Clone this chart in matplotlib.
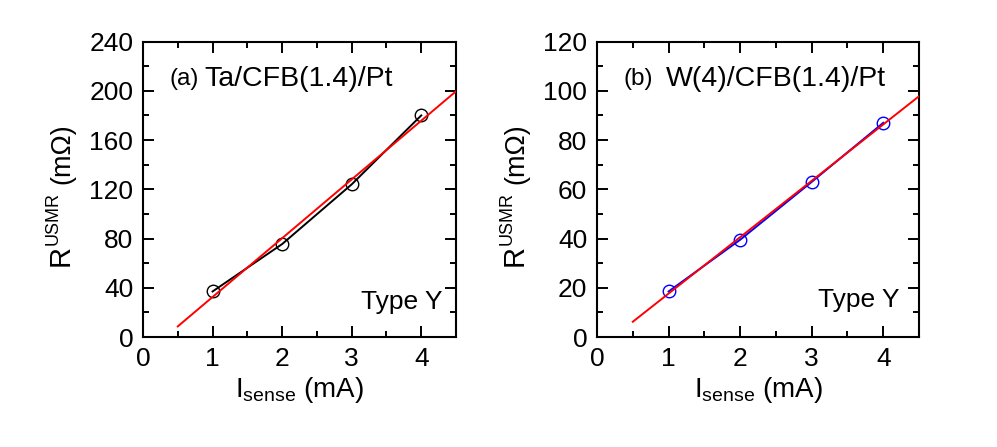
#!/usr/bin/env python3
"""Two-panel USMR vs sensing current plot with linear fits."""

import numpy as np
import matplotlib

matplotlib.use("Agg")
import matplotlib.pyplot as plt
from matplotlib.transforms import IdentityTransform

i_sense = [1, 2, 3, 4]
r_ta = [37, 75.5, 124, 180]
r_w = [18.5, 39.5, 63, 87]
fit_range = [0.5, 4.5]

plt.rcParams["font.family"] = ["Liberation Sans", "DejaVu Sans"]
plt.rcParams["mathtext.fontset"] = "custom"
plt.rcParams["mathtext.rm"] = "Liberation Sans"
plt.rcParams["mathtext.it"] = "Liberation Sans:italic"
plt.rcParams["mathtext.bf"] = "Liberation Sans:bold"

FIG_H = 447


def style_axes(ax, ymax, ystep):
    ax.set_xlim(0, 4.5)
    ax.set_ylim(0, ymax)
    ax.set_xticks([0, 1, 2, 3, 4])
    ax.set_xticks(np.arange(0.5, 4.5, 1.0), minor=True)
    ax.set_yticks(np.arange(0, ymax + 1, ystep))
    ax.set_yticks(np.arange(ystep / 2, ymax, ystep), minor=True)
    ax.tick_params(which="both", direction="in", top=True, right=True,
                   width=1.4, labelsize=19)
    ax.tick_params(which="major", length=8, pad=7)
    ax.tick_params(which="minor", length=4.5)
    for sp in ax.spines.values():
        sp.set_linewidth(1.5)
    ax.set_xlabel(r"$\mathrm{I_{sense}}$ (mA)", fontsize=20, labelpad=3)


def draw_panel(ax, y, color):
    ax.plot(i_sense, y, "-", color=color, lw=1.4, marker="o", mfc="none",
            mec=color, ms=9, mew=1.0, zorder=2)
    slope, icpt = np.polyfit(i_sense, y, 1)
    xf = np.array(fit_range)
    ax.plot(xf, slope * xf + icpt, "-", color="red", lw=1.4, zorder=3)


def ylabel_pieces(fig, x_px, y_px):
    # R^USMR (mOhm) written bottom-to-top, pieces in different sizes
    renderer = fig.canvas.get_renderer()
    parts = [("R", 21, 0, 0), ("USMR", 13, 11, 8), ("(m\u03a9)", 19.5, 0, 0)]
    y = FIG_H - y_px
    for s, size, rise, gap in parts:
        t = fig.text(x_px - rise, y, s, fontsize=size, rotation=90,
                     rotation_mode="anchor", ha="left", va="baseline",
                     transform=IdentityTransform())
        bb = t.get_window_extent(renderer)
        y = bb.y1 + gap


fig = plt.figure(figsize=(9.97, 4.47), dpi=100)
ax1 = fig.add_axes([0.1434, 0.246, 0.314, 0.661])
ax2 = fig.add_axes([0.5988, 0.246, 0.323, 0.661])

draw_panel(ax1, r_ta, "black")
style_axes(ax1, 240, 40)
ax1.text(0.086, 0.872, "(a)", transform=ax1.transAxes, fontsize=17.5, va="center")
ax1.text(0.195, 0.872, "Ta/CFB(1.4)/Pt", transform=ax1.transAxes, fontsize=20.5,
         va="center")
ax1.text(0.958, 0.12, "Type Y", transform=ax1.transAxes, fontsize=19,
         ha="right", va="center")

draw_panel(ax2, r_w, "blue")
style_axes(ax2, 120, 20)
ax2.text(0.081, 0.872, "(b)", transform=ax2.transAxes, fontsize=17.5, va="center")
ax2.text(0.215, 0.872, "W(4)/CFB(1.4)/Pt", transform=ax2.transAxes, fontsize=20.5,
         va="center")
ax2.text(0.94, 0.125, "Type Y", transform=ax2.transAxes, fontsize=19,
         ha="right", va="center")

ylabel_pieces(fig, 69, 266)
ylabel_pieces(fig, 523, 266)

fig.savefig("out.png", dpi=100)
